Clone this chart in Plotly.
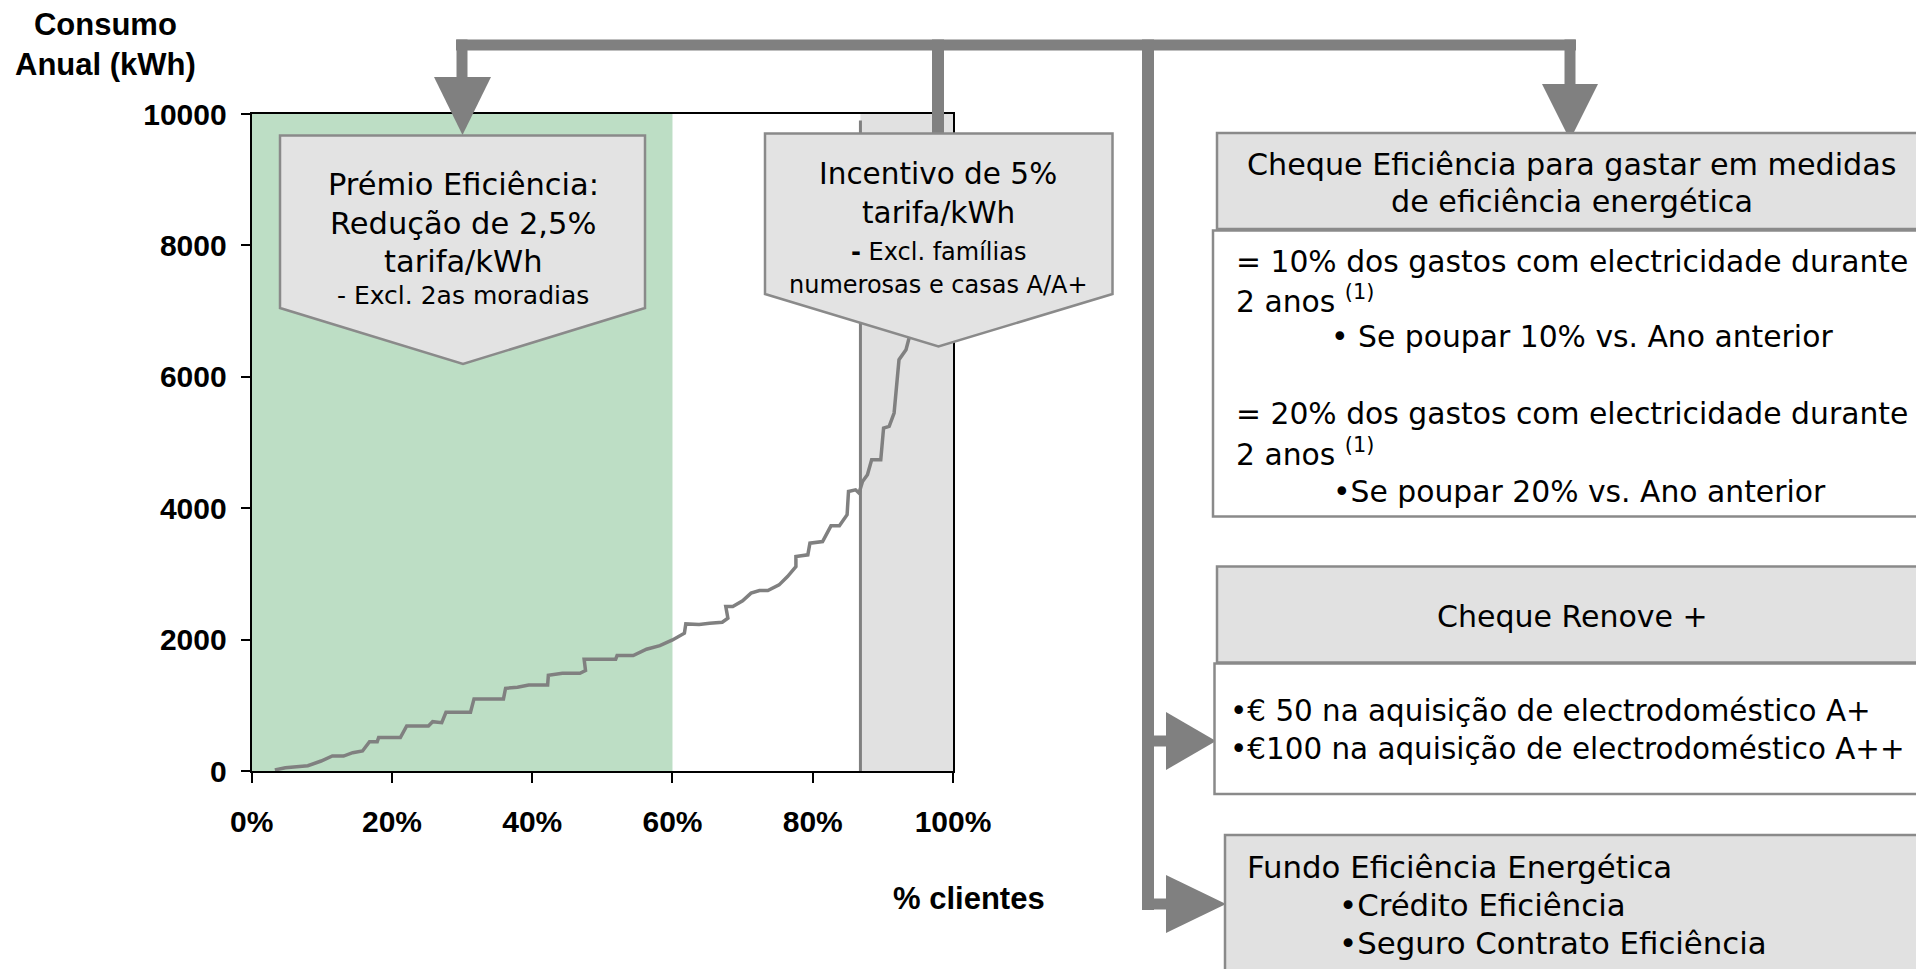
import plotly.graph_objects as go

W, H = 1916, 969
FONT = "DejaVu Sans"
AXIS_FONT = "Liberation Sans"
GREY = "#808080"
BORDER = "#8a8a8a"
PANEL = "#e1e1e1"

# Cumulative share of customers (fraction) and annual consumption (kWh)
share_clients = [
    0.033, 0.048, 0.080, 0.099, 0.115, 0.131, 0.144, 0.158, 0.168, 0.179,
    0.181, 0.212, 0.221, 0.252, 0.258, 0.271, 0.277, 0.312, 0.317, 0.359,
    0.362, 0.379, 0.395, 0.422, 0.423, 0.443, 0.468, 0.476, 0.474, 0.519,
    0.521, 0.544, 0.563, 0.582, 0.600, 0.617, 0.619, 0.638, 0.653, 0.671,
    0.679, 0.676, 0.686, 0.700, 0.712, 0.724, 0.736, 0.752, 0.764, 0.776,
    0.776, 0.793, 0.796, 0.814, 0.826, 0.838, 0.849, 0.851, 0.861, 0.866,
    0.871, 0.878, 0.884, 0.897, 0.901, 0.909, 0.916, 0.918, 0.923, 0.933,
    0.937, 0.941, 0.945,
]
consumo_kwh = [
    15, 50, 80, 152, 228, 228, 279, 305, 447, 447,
    508, 508, 685, 685, 751, 735, 894, 894, 1097, 1097,
    1259, 1275, 1310, 1310, 1457, 1488, 1488, 1529, 1701, 1701,
    1757, 1757, 1853, 1909, 1995, 2097, 2239, 2230, 2250, 2265,
    2326, 2503, 2503, 2590, 2707, 2747, 2747, 2833, 2960, 3112,
    3264, 3290, 3468, 3493, 3732, 3732, 3900, 4254, 4280, 4230,
    4407, 4509, 4737, 4737, 5220, 5245, 5449, 5651, 6260, 6413,
    6565, 6700, 6900,
]

x_ticks = [0, 0.2, 0.4, 0.6, 0.8, 1.0]
x_tick_labels = ["0%", "20%", "40%", "60%", "80%", "100%"]
y_ticks = [0, 2000, 4000, 6000, 8000, 10000]
y_tick_labels = ["0", "2000", "4000", "6000", "8000", "10000"]

premio_band = [0.0, 0.60]       # customers covered by the Prémio Eficiência
incentivo_band = [0.868, 1.0]   # customers covered by the 5% incentive


def px(x):
    return x / W


def py(y):
    return 1 - y / H


def poly(points, fill, line_color=None, line_width=0):
    d = "M " + " L ".join(f"{px(x):.5f},{py(y):.5f}" for x, y in points) + " Z"
    return dict(type="path", xref="paper", yref="paper", path=d,
                fillcolor=fill, layer="above",
                line=dict(color=line_color or fill, width=line_width))


def box(x0, y0, x1, y1, fill, line_color=None, line_width=0):
    return dict(type="rect", xref="paper", yref="paper",
                x0=px(x0), x1=px(x1), y0=py(y1), y1=py(y0),
                fillcolor=fill, layer="above",
                line=dict(color=line_color or fill, width=line_width))


def label(x, y, text, size=30, anchor="center", family=FONT, weight="normal"):
    return dict(xref="paper", yref="paper", x=px(x), y=py(y), text=text,
                showarrow=False, xanchor=anchor, yanchor="middle",
                font=dict(family=family, size=size, color="#000000",
                          weight=weight))


fig = go.Figure()

fig.add_trace(go.Scatter(
    x=share_clients, y=consumo_kwh, mode="lines",
    line=dict(color=GREY, width=3.5), hoverinfo="skip", showlegend=False,
))

shapes = [
    # shaded customer bands inside the plot
    dict(type="rect", xref="x", yref="y", x0=premio_band[0], x1=premio_band[1],
         y0=0, y1=10000, fillcolor="#bddec5", line=dict(width=0), layer="below"),
    dict(type="rect", xref="x", yref="y", x0=incentivo_band[0], x1=incentivo_band[1],
         y0=0, y1=10000, fillcolor=PANEL, line=dict(width=0), layer="below"),
    dict(type="line", xref="x", yref="y", x0=incentivo_band[0], x1=incentivo_band[0],
         y0=0, y1=9900, line=dict(color=GREY, width=3), layer="below"),

    # connector bus on top
    box(456, 39.5, 1576, 50.5, GREY),
    box(456.5, 39.5, 467.5, 80, GREY),
    box(1564.5, 39.5, 1575.5, 86, GREY),
    box(932, 39.5, 944, 134, GREY),
    box(1142, 39.5, 1154, 910, GREY),
    box(1142, 735.5, 1168, 746.5, GREY),
    box(1142, 898.5, 1168, 909.5, GREY),
    # arrow heads
    poly([(434, 77), (491, 77), (462.5, 135)], GREY),
    poly([(1542, 84), (1598, 84), (1570, 140)], GREY),
    poly([(1166, 712), (1216, 741), (1166, 770)], GREY),
    poly([(1166, 875), (1226, 904), (1166, 933)], GREY),

    # callouts over the chart
    poly([(280, 135.5), (645, 135.5), (645, 308), (463, 364), (280, 308)],
         "#e3e3e3", BORDER, 2.5),
    poly([(765, 133.5), (1112.5, 133.5), (1112.5, 294), (938.5, 346.5), (765, 294)],
         "#e3e3e3", BORDER, 2.5),

    # right-hand panels
    box(1217, 133, 1940, 229, PANEL, BORDER, 2.5),
    box(1213, 230.5, 1940, 516.5, "#ffffff", BORDER, 2.5),
    box(1217, 566.5, 1940, 662.5, PANEL, BORDER, 2.5),
    box(1214.5, 663.5, 1940, 794, "#ffffff", BORDER, 2.5),
    box(1225, 835, 1940, 1000, PANEL, BORDER, 2.5),
]

annotations = [
    label(105, 44, "Consumo<br>Anual (kWh)", 31, family=AXIS_FONT, weight="bold"),
    label(969, 898, "% clientes", 31, family=AXIS_FONT, weight="bold"),

    label(463, 184.5, "Prémio Eficiência:", 30.5),
    label(463, 223, "Redução de 2,5%", 30.5),
    label(463, 261, "tarifa/kWh", 30.5),
    label(463, 295, "- Excl. 2as moradias", 25),

    label(938, 173.5, "Incentivo de 5%", 29.5),
    label(938, 213.5, "tarifa/kWh", 29.5),
    label(938, 251.5, "<b>-</b> Excl. famílias", 24),
    label(938, 285, "numerosas e casas A/A+", 24),

    label(1572, 164.5, "Cheque Eficiência para gastar em medidas", 30.2),
    label(1572, 201.5, "de eficiência energética", 30.2),
    label(1234, 261.5, "= 10% dos gastos com electricidade durante", 29.8, "left"),
    label(1234, 299.5, "2 anos <sup>(1)</sup>", 29.8, "left"),
    label(1329, 336.5, "• Se poupar 10% vs. Ano anterior", 29.8, "left"),
    label(1234, 413.5, "= 20% dos gastos com electricidade durante", 29.8, "left"),
    label(1234, 452.5, "2 anos <sup>(1)</sup>", 29.8, "left"),
    label(1331, 491.5, "•Se poupar 20% vs. Ano anterior", 29.8, "left"),

    label(1572, 616, "Cheque Renove +", 30),
    label(1228, 711, "•€ 50 na aquisição de electrodoméstico A+", 29.4, "left"),
    label(1228, 749, "•€100 na aquisição de electrodoméstico A++", 29.4, "left"),

    label(1245, 867, "Fundo Eficiência Energética", 30.8, "left"),
    label(1337, 905, "•Crédito Eficiência", 30.8, "left"),
    label(1337, 943, "•Seguro Contrato Eficiência", 30.8, "left"),
]

axis_common = dict(
    showgrid=False, zeroline=False, showline=True, linecolor="#000000",
    linewidth=2, mirror=True, ticks="outside", tickcolor="#000000",
    tickwidth=2,
    tickfont=dict(family=AXIS_FONT, size=30, color="#000000", weight="bold"),
    fixedrange=True, automargin=False,
)

fig.update_layout(
    width=W, height=H,
    margin=dict(l=0, r=0, t=0, b=0, pad=0, autoexpand=False),
    paper_bgcolor="#ffffff", plot_bgcolor="rgba(0,0,0,0)",
    showlegend=False,
    xaxis=dict(domain=[251.7 / W, 953 / W], range=[0, 1],
               tickvals=x_ticks, ticktext=x_tick_labels, ticklen=10,
               ticklabelstandoff=13, **axis_common),
    yaxis=dict(domain=[1 - 771 / H, 1 - 114 / H], range=[0, 10000],
               tickvals=y_ticks, ticktext=y_tick_labels, ticklen=9,
               ticklabelstandoff=8, **axis_common),
    shapes=shapes,
    annotations=annotations,
)

fig.write_html("out.html")
